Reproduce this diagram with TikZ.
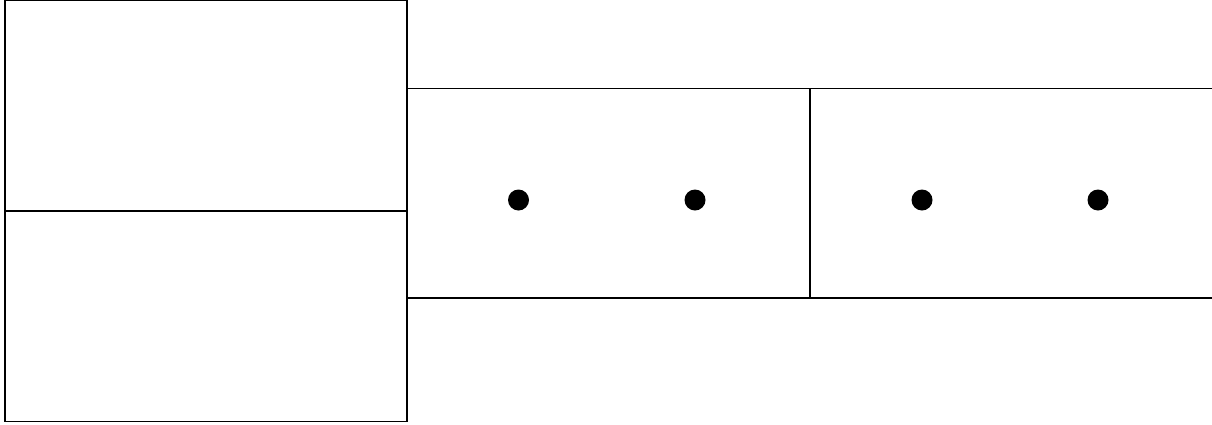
\documentclass[tikz,border=0pt]{standalone}
\begin{document}
\begin{tikzpicture}[x=1pt,y=-1pt,
  box/.style={draw=black,line width=1.2pt,fill=none},
  dot/.style={circle,fill=black,inner sep=0pt,minimum size=21pt}]
\useasboundingbox (0,0) rectangle (1212,424);
\fill[white] (0,0) rectangle (1212,424);
% left column
\draw[box] (5,0.1) rectangle (407,211);
\draw[box] (5,211) rectangle (407,421.8);
% right strip
\draw[box] (407,88.5) rectangle (810,298);
\draw[box] (810,88.5) -- (1212,88.5);
\draw[box] (810,298) -- (1212,298);
\node[dot] (d1) at (518.5,200) {};
\node[dot] (d2) at (695,200) {};
\node[dot] (d3) at (922,200) {};
\node[dot] (d4) at (1098,200) {};
\end{tikzpicture}
\end{document}
